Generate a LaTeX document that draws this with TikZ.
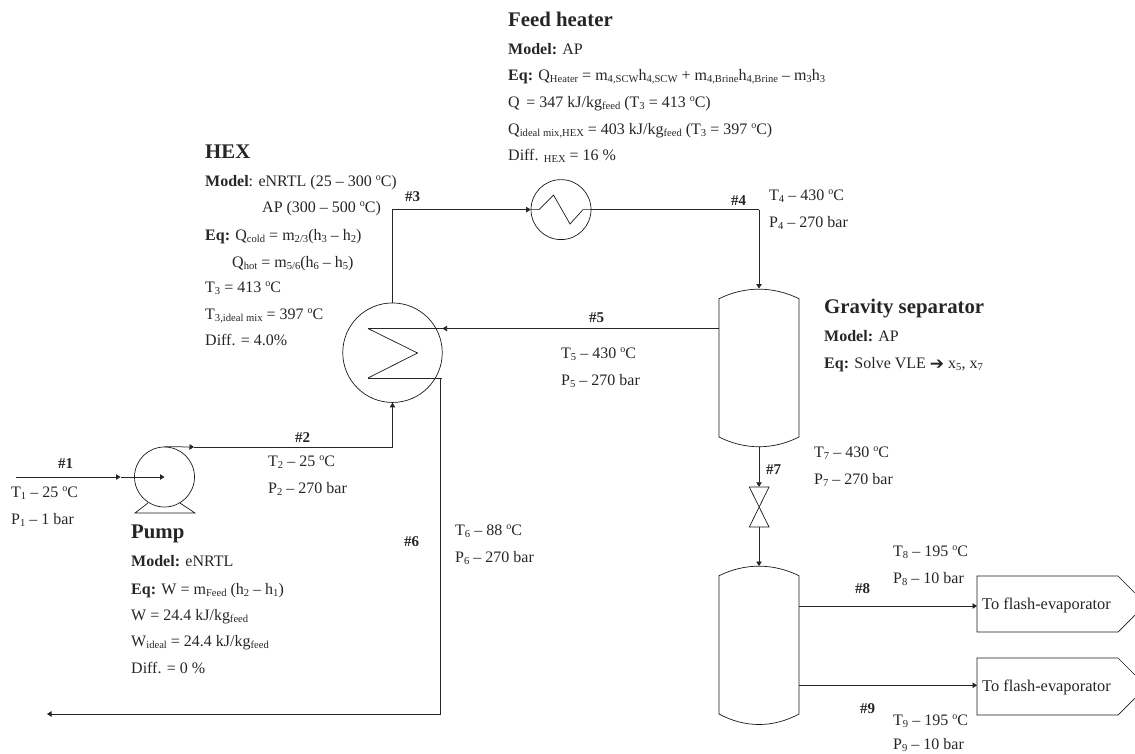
\documentclass[tikz,border=0pt]{standalone}
\usepackage{fontspec}
\setmainfont{Liberation Serif}
\newfontfamily\symfont{DejaVu Sans}
\usetikzlibrary{arrows.meta}
\newcommand{\lo}[1]{{\fontsize{10.6}{11}\selectfont\raisebox{-2.4pt}{#1}}}
\newcommand{\dgc}{{\fontsize{10}{10}\selectfont\raisebox{5.5pt}{o}}C}
\tikzset{
  x=1pt,y=-1pt,
  pipe/.style={draw=black!85,line width=0.75pt},
  flow/.style={pipe,-{Triangle[length=4.5pt,width=5.5pt]}},
  unit/.style={draw=black!90,line width=0.7pt,fill=none,circle,inner sep=0pt},
  txt/.style={anchor=base west,inner sep=0pt,text=black!85,font=\fontsize{16}{18}\selectfont},
  head/.style={txt,font=\fontsize{20.8}{24}\selectfont\bfseries},
  num/.style={txt,font=\fontsize{15}{18}\selectfont\bfseries},
  tagbox/.style={anchor=west,inner sep=0pt,text=black!85,font=\fontsize{16.4}{18}\selectfont},
  holder/.style={inner sep=0pt,minimum width=80pt,minimum height=158pt,draw=none},
}
\begin{document}
\begin{tikzpicture}
\useasboundingbox (0,0) rectangle (1135,753);
% equipment
\node[unit,minimum size=99.5pt] (hex) at (392.5,352.7) {};
\node[unit,minimum size=60pt] (heater) at (561,209.6) {};
\node[unit,minimum size=60pt] (pump) at (164.5,477) {};
\node[holder] (sepa) at (759,368) {};
\node[holder] (sepb) at (759,645.5) {};
% vessels
\draw[black!90,line width=0.7pt] (719,298.7) .. controls (745,286) and (773,286) .. (799,298.7) -- (799,437) .. controls (773,450) and (745,450) .. (719,437) -- cycle;
\draw[black!90,line width=0.7pt] (719,575.7) .. controls (745,563) and (773,563) .. (799,575.7) -- (799,714) .. controls (773,728) and (745,728) .. (719,714) -- cycle;
% pump base
\draw[black!90,line width=0.7pt] (148,503) -- (135,513) -- (195,513) -- (180,503);
% hex coil
\coordinate (coilA) at (368,328.5);
\coordinate (coilB) at (368,378);
\draw[black!90,line width=0.7pt] (coilA) -- (417.5,353) -- (coilB);
% heater coil
\draw[black!90,line width=0.7pt] (531,209.6) -- (539,209.6) -- (553.5,195) -- (570,224) -- (583,209.6) -- (591,209.6);
% valve
\node[inner sep=0pt,minimum width=20pt,minimum height=40pt] (valve) at (759,507) {};
\draw[black!90,line width=0.7pt] (749.3,487) -- (769,487) -- (749.3,527) -- (769,527) -- cycle;
% tags
\node[inner sep=0pt,minimum width=141pt,minimum height=56pt,anchor=north west] (tago) at (977,576) {};
\node[inner sep=0pt,minimum width=141pt,minimum height=57pt,anchor=north west] (tagt) at (977,658) {};
\draw[black!90,line width=0.7pt] (1135,593) -- (1118,576) -- (977,576) -- (977,632) -- (1118,632) -- (1135,615);
\draw[black!90,line width=0.7pt] (1135,675) -- (1118,658) -- (977,658) -- (977,715) -- (1118,715) -- (1135,698);
\node[tagbox] at (982,605) {To flash-evaporator};
\node[tagbox] at (982,687) {To flash-evaporator};
% stream 1
\coordinate (inA) at (16,477);
\coordinate (inB) at (120.5,477);
\draw[flow] (inA) -- (inB);
\draw[flow] (inB) -- (pump.center);
% stream 2
\coordinate (outB) at (194,447);
\coordinate (outC) at (392.5,447);
\draw[flow] (pump.north) -- (outB);
\draw[flow] (outB) -- (outC) -- (hex.south);
% stream 3
\coordinate (upC) at (392.5,209.6);
\draw[flow] (hex.north) -- (upC) -- (heater.west);
% stream 4
\coordinate (rC) at (759,209.6);
\draw[pipe] (heater.east) -- (rC);
\draw[flow] (rC) -- (759,288.5);
% stream 5
\coordinate (sA) at (719,328.5);
\coordinate (hA) at (442.5,328.5);
\draw[flow] (sA) -- (hA);
\draw[pipe] (hA) -- (coilA);
% stream 6
\coordinate (oA) at (442,378);
\coordinate (oB) at (440.5,378);
\coordinate (oC) at (440.5,714);
\coordinate (oD) at (47,714);
\draw[pipe] (coilB) -- (oA);
\draw[flow] (oB) -- (oC) -- (oD);
% stream 7
\draw[flow] (759,447) -- (valve.north);
\draw[flow] (valve.south) -- (759,566);
% stream 8, 9
\draw[flow] (799,606) -- (977,606);
\draw[flow] (799,685.3) -- (977,685.3);
% stream labels
\node[num] at (58,468) {\#1};
\node[num] at (295,442) {\#2};
\node[num] at (405,201) {\#3};
\node[num] at (731,205) {\#4};
\node[num] at (589,322) {\#5};
\node[num] at (404,546) {\#6};
\node[num] at (766,474) {\#7};
\node[num] at (855,593) {\#8};
\node[num] at (860,713) {\#9};
% conditions
\node[txt] at (11,497) {T\lo{1} -- 25 \dgc};
\node[txt] at (11,524) {P\lo{1} -- 1 bar};
\node[txt] at (268,466) {T\lo{2} -- 25 \dgc};
\node[txt] at (268,493) {P\lo{2} -- 270 bar};
\node[txt] at (769,200) {T\lo{4} -- 430 \dgc};
\node[txt] at (769,227) {P\lo{4} -- 270 bar};
\node[txt] at (561,358) {T\lo{5} -- 430 \dgc};
\node[txt] at (561,385) {P\lo{5} -- 270 bar};
\node[txt] at (455,535) {T\lo{6} -- 88 \dgc};
\node[txt] at (455,562) {P\lo{6} -- 270 bar};
\node[txt] at (814,457) {T\lo{7} -- 430 \dgc};
\node[txt] at (814,484) {P\lo{7} -- 270 bar};
\node[txt] at (893,556) {T\lo{8} -- 195 \dgc};
\node[txt] at (893,583) {P\lo{8} -- 10 bar};
\node[txt] at (893,725) {T\lo{9} -- 195 \dgc};
\node[txt] at (893,749) {P\lo{9} -- 10 bar};
% feed heater
\node[head] at (508,26) {Feed heater};
\node[txt] at (508,54) {\textbf{Model:} AP};
\node[txt] at (508,80) {\textbf{Eq:} Q\lo{Heater} = m\lo{4,SCW}h\lo{4,SCW} + m\lo{4,Brine}h\lo{4,Brine} -- m\lo{3}h\lo{3}};
\node[txt] at (508,107) {Q\, = 347 kJ/kg\lo{feed} (T\lo{3} = 413 \dgc)};
\node[txt] at (508,134) {Q\lo{ideal mix,HEX} = 403 kJ/kg\lo{feed} (T\lo{3} = 397 \dgc)};
\node[txt] at (508,160) {Diff. \lo{HEX} = 16 \%};
% hex
\node[head] at (205,158) {HEX};
\node[txt] at (205,186) {\textbf{Model}: eNRTL (25 -- 300 \dgc)};
\node[txt] at (262,212) {AP (300 -- 500 \dgc)};
\node[txt] at (205,240) {\textbf{Eq:} Q\lo{cold} = m\lo{2/3}(h\lo{3} -- h\lo{2})};
\node[txt] at (232,267) {Q\lo{hot} = m\lo{5/6}(h\lo{6} -- h\lo{5})};
\node[txt] at (205,292) {T\lo{3} = 413 \dgc};
\node[txt] at (205,319) {T\lo{3,ideal mix} = 397 \dgc};
\node[txt] at (205,345) {Diff. = 4.0\%};
% separator
\node[head] at (824,313) {Gravity separator};
\node[txt] at (824,341) {\textbf{Model:} AP};
\node[txt] at (824,368) {\textbf{Eq:} Solve VLE {\symfont\fontsize{17}{18}\selectfont\raisebox{-1pt}{➔}} x\lo{5}, x\lo{7}};
% pump
\node[head] at (131,538) {Pump};
\node[txt] at (131,566) {\textbf{Model:} eNRTL};
\node[txt] at (131,594) {\textbf{Eq:} W = m\lo{Feed} (h\lo{2} -- h\lo{1})};
\node[txt] at (131,620) {W = 24.4 kJ/kg\lo{feed}};
\node[txt] at (131,646) {W\lo{ideal} = 24.4 kJ/kg\lo{feed}};
\node[txt] at (131,673) {Diff. = 0 \%};
\end{tikzpicture}
\end{document}
